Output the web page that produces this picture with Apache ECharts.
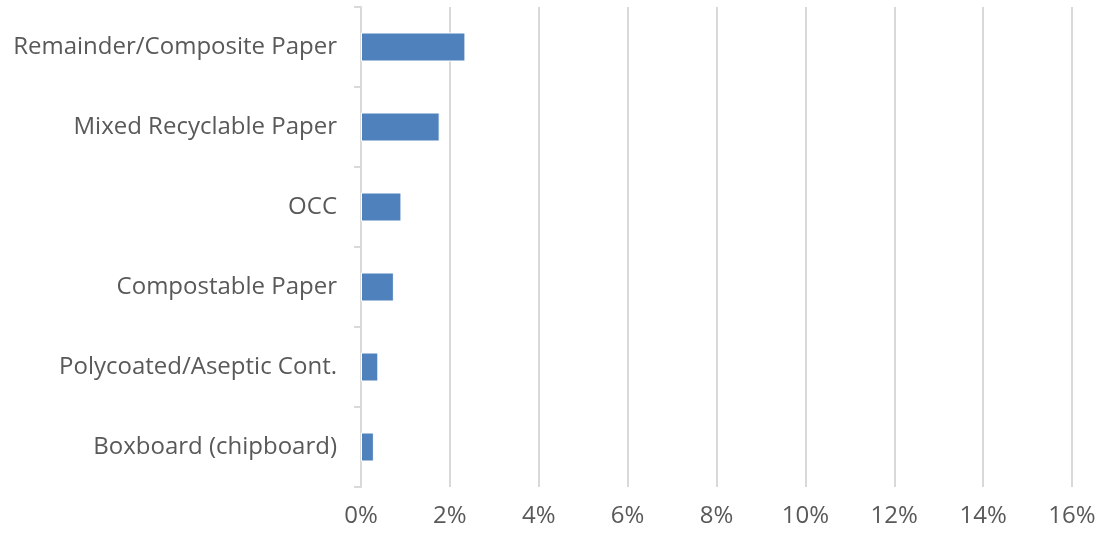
<!DOCTYPE html>
<html>
<head>
<meta charset="utf-8">
<script src="https://cdn.jsdelivr.net/npm/echarts@6/dist/echarts.min.js"></script>
<style>html,body{margin:0;padding:0;background:#fff}#c{width:1102px;height:533px}</style>
</head>
<body>
<div id="c"></div>
<script>
const categories = ["Boxboard (chipboard)", "Polycoated/Aseptic Cont.", "Compostable Paper", "OCC", "Mixed Recyclable Paper", "Remainder/Composite Paper"];
const values = [0.29, 0.39, 0.74, 0.91, 1.77, 2.35];
const xTicks = [0, 2, 4, 6, 8, 10, 12, 14, 16];

const chart = echarts.init(document.getElementById('c'));
chart.setOption({
  animation: false,
  grid: { left: 361, right: 30, top: 7, bottom: 46, containLabel: false },
  xAxis: {
    type: 'value', min: xTicks[0], max: xTicks[xTicks.length - 1], interval: 2,
    axisLine: { show: false }, axisTick: { show: false },
    splitLine: { show: true, lineStyle: { color: '#d9d9d9', width: 2 } },
    axisLabel: { formatter: v => v + '%', color: '#595959', fontSize: 24, fontFamily: 'Open Sans', margin: 17 }
  },
  yAxis: {
    type: 'category', data: categories,
    axisLine: { show: true, lineStyle: { color: '#d9d9d9', width: 2 } },
    axisTick: { show: true, length: 7, lineStyle: { color: '#d9d9d9', width: 2 } },
    axisLabel: { color: '#595959', fontSize: 24, fontFamily: 'Open Sans', margin: 24 }
  },
  series: [{
    type: 'bar', data: values, barWidth: 29,
    itemStyle: { color: '#4F81BD', borderColor: '#ffffff', borderWidth: 1 }
  }]
});
</script>
</body>
</html>
